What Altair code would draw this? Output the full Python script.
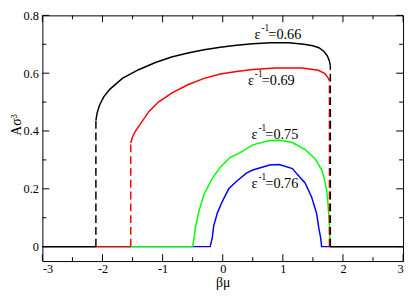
import altair as alt
import pandas as pd

# ---- data ----
black_x = [-2.11, -2.09, -2.05, -1.98, -1.88, -1.67, -1.40, -1.12, -0.85, -0.58, -0.31, -0.04,
           0.23, 0.50, 0.80, 1.10, 1.35, 1.50, 1.60, 1.68, 1.74, 1.77, 1.79]
black_y = [0.437, 0.462, 0.489, 0.518, 0.544, 0.582, 0.612, 0.637, 0.656, 0.670, 0.681, 0.690,
           0.697, 0.702, 0.705, 0.705, 0.700, 0.695, 0.688, 0.676, 0.660, 0.645, 0.627]

red_x = [-1.53, -1.50, -1.45, -1.40, -1.23, -1.07, -0.85, -0.58, -0.31, -0.04, 0.23, 0.50,
         0.88, 1.32, 1.59, 1.70, 1.75, 1.775]
red_y = [0.358, 0.380, 0.400, 0.415, 0.467, 0.500, 0.531, 0.560, 0.582, 0.597, 0.606, 0.613,
         0.618, 0.618, 0.610, 0.599, 0.585, 0.575]

green_x = [-0.50, -0.47, -0.45, -0.39, -0.31, -0.17, -0.04, 0.12, 0.29, 0.50, 0.78, 0.95,
           1.16, 1.37, 1.54, 1.65, 1.70, 1.73, 1.75, 1.77, 1.78, 1.785]
green_y = [0.0, 0.040, 0.072, 0.127, 0.182, 0.237, 0.275, 0.308, 0.325, 0.352, 0.367, 0.368,
           0.360, 0.336, 0.303, 0.264, 0.226, 0.193, 0.149, 0.094, 0.039, 0.0]

blue_x = [-0.21, -0.175, -0.15, -0.09, -0.01, 0.10, 0.23, 0.40, 0.50, 0.78, 0.94, 1.16,
          1.24, 1.37, 1.48, 1.56, 1.60, 1.63, 1.645]
blue_y = [0.0, 0.029, 0.072, 0.116, 0.155, 0.200, 0.226, 0.255, 0.265, 0.282, 0.284, 0.270,
          0.250, 0.220, 0.171, 0.116, 0.062, 0.029, 0.0]

label_vals = ["0.66", "0.69", "0.75", "0.76"]
label_x = [0.53, 0.42, 0.48, 0.48]
label_y = [0.718, 0.558, 0.374, 0.202]

x_major = [-3, -2, -1, 0, 1, 2, 3]
x_minor = [-2.5, -1.5, -0.5, 0.5, 1.5, 2.5]
y_major = [0, 0.2, 0.4, 0.6, 0.8]
y_minor = [0.1, 0.3, 0.5, 0.7]
X_MIN, X_MAX = -3, 3
Y_DOMAIN = [-0.05, 0.8]

W, H = 367, 250
SERIF = "Liberation Serif"


def jump_series(xs, ys):
    rows = [(X_MIN, 0.0, 0), (xs[0], 0.0, 0)]
    rows += [(x, y, 1) for x, y in zip(xs, ys)]
    rows += [(xs[-1], 0.0, 2), (X_MAX, 0.0, 2)]
    df = pd.DataFrame(rows, columns=["x", "y", "seg"])
    df["i"] = range(len(df))
    return df


def smooth_series(xs, ys):
    rows = [(X_MIN, 0.0, 0)] + [(x, y, 0) for x, y in zip(xs, ys)] + [(X_MAX, 0.0, 0)]
    df = pd.DataFrame(rows, columns=["x", "y", "seg"])
    df["i"] = range(len(df))
    return df


def jumps(xs, ys):
    return pd.DataFrame({"x": [xs[0], xs[-1]], "y": [0.0, 0.0], "y2": [ys[0], ys[-1]]})


xscale = alt.Scale(domain=[X_MIN, X_MAX], nice=False, zero=False)
yscale = alt.Scale(domain=Y_DOMAIN, nice=False, zero=False)

main_x = alt.Axis(orient="bottom", values=x_major, labelExpr="'' + datum.value", ticks=False,
                  tickSize=0, domain=False, grid=False, labelPadding=2, labelFont=SERIF,
                  labelFontSize=12.5, labelColor="black", title="βμ", titleFont=SERIF,
                  titleFontSize=14, titleFontWeight="normal", titleColor="black",
                  titleY=15, titleBaseline="top")
main_y = alt.Axis(orient="left", values=y_major, format=".1~f", ticks=False, tickSize=0,
                  domain=False, grid=False, labelPadding=4, labelFont=SERIF, labelFontSize=12.5,
                  labelColor="black", title="Aσ³", titleFont=SERIF, titleFontSize=14,
                  titleFontWeight="normal", titleColor="black", titleX=-22, titleY=111,
                  titleAngle=270, titleBaseline="alphabetic")


def line_layer(df, color, xaxis=None, yaxis=None):
    return alt.Chart(df).mark_line(color=color, strokeWidth=1.5).encode(
        x=alt.X("x:Q", scale=xscale, axis=xaxis),
        y=alt.Y("y:Q", scale=yscale, axis=yaxis),
        detail="seg:N", order="i:Q")


def dash_layer(df, color):
    return alt.Chart(df).mark_rule(color=color, strokeWidth=1.5, strokeDash=[8, 4]).encode(
        x=alt.X("x:Q", scale=xscale, axis=None),
        y=alt.Y("y:Q", scale=yscale, axis=None),
        y2="y2:Q")


def xticks(vals, size):
    d = pd.DataFrame({"v": vals})
    base = alt.Chart(d).mark_rule(color="black", strokeWidth=1)
    bottom = base.encode(x=alt.X("v:Q", scale=xscale, axis=None),
                         y=alt.value(H), y2=alt.value(H - size))
    top = base.encode(x=alt.X("v:Q", scale=xscale, axis=None),
                      y=alt.value(0), y2=alt.value(size))
    return [bottom, top]


def yticks(vals, size):
    d = pd.DataFrame({"v": vals})
    base = alt.Chart(d).mark_rule(color="black", strokeWidth=1)
    left = base.encode(y=alt.Y("v:Q", scale=yscale, axis=None),
                       x=alt.value(0), x2=alt.value(size))
    right = base.encode(y=alt.Y("v:Q", scale=yscale, axis=None),
                        x=alt.value(W), x2=alt.value(W - size))
    return [left, right]


blue_l = line_layer(smooth_series(blue_x, blue_y), "#0000ff", main_x, main_y)
green_l = line_layer(smooth_series(green_x, green_y), "#00ff00")
red_l = line_layer(jump_series(red_x, red_y), "#ff0000")
red_d = dash_layer(jumps(red_x, red_y), "#ff0000")
black_l = line_layer(jump_series(black_x, black_y), "#000000")
black_d = dash_layer(jumps(black_x, black_y), "#000000")

labels = pd.DataFrame({"x": label_x, "y": label_y, "v": label_vals})
labels["rest"] = "=" + labels["v"]
labels["eps"] = "ε"
labels["sup"] = "-1"

tbase = alt.Chart(labels).encode(
    x=alt.X("x:Q", scale=xscale, axis=None),
    y=alt.Y("y:Q", scale=yscale, axis=None))
t_eps = tbase.mark_text(align="left", baseline="alphabetic", font=SERIF, fontSize=14.5,
                        color="black").encode(text="eps:N")
t_sup = tbase.mark_text(align="left", baseline="alphabetic", font=SERIF, fontSize=9.5,
                        dx=7, dy=-8, color="black").encode(text="sup:N")
t_rest = tbase.mark_text(align="left", baseline="alphabetic", font=SERIF, fontSize=14.5,
                         dx=14, color="black").encode(text="rest:N")

layers = [blue_l, green_l, red_l, red_d, black_l, black_d]
layers += xticks(x_major, 7) + xticks(x_minor, 4) + yticks(y_major, 7) + yticks(y_minor, 4)
layers += [t_eps, t_sup, t_rest]

chart = alt.layer(*layers).resolve_axis(x="independent", y="independent").properties(
    width=W, height=H,
    autosize=alt.AutoSizeParams(type="none"),
    padding={"left": 35, "top": 5, "right": 4, "bottom": 31},
    background="white",
).configure_view(stroke="black", strokeWidth=1)

chart.save("out.html", embed_options={"renderer": "svg", "actions": False})
